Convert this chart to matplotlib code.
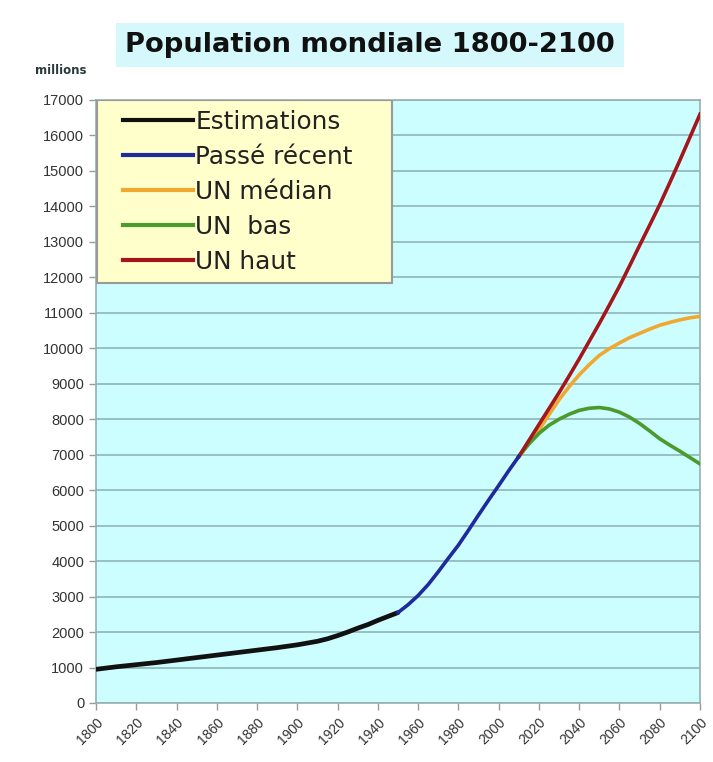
import matplotlib
matplotlib.use("Agg")
import matplotlib.pyplot as plt
from matplotlib.lines import Line2D
from matplotlib.patches import Rectangle

plt.rcParams['font.family'] = ['Liberation Sans', 'DejaVu Sans']

# Data (millions)
est_years = [1800, 1810, 1820, 1830, 1840, 1850, 1860, 1870, 1880, 1890,
             1900, 1905, 1910, 1915, 1920, 1925, 1930, 1935, 1940, 1945, 1950]
est_vals = [950, 1020, 1080, 1140, 1210, 1280, 1350, 1420, 1490, 1560,
            1640, 1690, 1740, 1810, 1900, 2000, 2110, 2210, 2330, 2440, 2550]

recent_years = [1950, 1955, 1960, 1965, 1970, 1975, 1980, 1985, 1990,
                1995, 2000, 2005, 2010]
recent_vals = [2550, 2770, 3030, 3340, 3700, 4080, 4450, 4870, 5300,
               5720, 6130, 6550, 6950]

proj_years = [2010, 2015, 2020, 2025, 2030, 2035, 2040, 2045, 2050, 2055,
              2060, 2065, 2070, 2075, 2080, 2085, 2090, 2095, 2100]
median_vals = [6950, 7320, 7700, 8130, 8550, 8920, 9250, 9540, 9800, 9990,
               10150, 10300, 10420, 10540, 10650, 10730, 10800, 10860, 10900]
low_vals = [6950, 7300, 7600, 7830, 8000, 8140, 8250, 8310, 8330, 8290,
            8200, 8060, 7880, 7670, 7450, 7270, 7100, 6920, 6740]
high_vals = [6950, 7400, 7850, 8300, 8750, 9220, 9700, 10200, 10700, 11220,
             11750, 12320, 12900, 13470, 14050, 14670, 15300, 15950, 16600]

labels = ["Estimations", "Passé récent", "UN médian", "UN  bas", "UN haut"]
colors = ["#111111", "#1f2a9c", "#f0a830", "#4a9a2c", "#a3161c"]

x_ticks = list(range(1800, 2101, 20))
y_ticks = list(range(0, 17001, 1000))

fig = plt.figure(figsize=(7.13, 7.62), dpi=100)
fig.patch.set_facecolor("white")
ax = fig.add_axes([96/713, 59/762, 604/713, 603/762])
ax.set_facecolor("#ccfdff")

ax.plot(est_years, est_vals, color=colors[0], lw=3.4, solid_capstyle='round',
        solid_joinstyle='round', zorder=5)
ax.plot(recent_years, recent_vals, color=colors[1], lw=2.6, solid_joinstyle='round', zorder=5)
ax.plot(proj_years, high_vals, color=colors[4], lw=2.6, solid_joinstyle='round', zorder=4)
ax.plot(proj_years, median_vals, color=colors[2], lw=2.6, solid_joinstyle='round', zorder=3)
ax.plot(proj_years, low_vals, color=colors[3], lw=2.6, solid_joinstyle='round', zorder=3)

ax.set_xlim(1800, 2100)
ax.set_ylim(0, 17000)
ax.set_xticks(x_ticks)
ax.set_yticks(y_ticks)
ax.set_xticklabels([str(v) for v in x_ticks], rotation=45, ha='right',
                   rotation_mode='anchor', fontsize=10, color='#333333')
ax.set_yticklabels([str(v) for v in y_ticks], fontsize=10.5, color='#333333')
ax.tick_params(axis='both', length=5, width=1, color='#999999', direction='out')
ax.tick_params(axis='x', pad=4)
ax.grid(axis='y', color='#8fb4b8', lw=1.2)
ax.set_axisbelow(True)
for s in ax.spines.values():
    s.set_color('#9aaeb0')
    s.set_linewidth(1.2)

# legend frame
ax.add_patch(Rectangle((0.0017, 0.6965), 0.4883, 0.3035, transform=ax.transAxes,
                       facecolor='#ffffcc', edgecolor='#999999', lw=1.5, zorder=6))
handles = [Line2D([], [], color=c, lw=3) for c in colors]
leg = ax.legend(handles, labels, loc='upper left', bbox_to_anchor=(0.0447, 0.984),
                borderaxespad=0, frameon=False,
                prop={'family': 'DejaVu Sans', 'size': 17.8},
                handlelength=2.83, handletextpad=0.1,
                labelspacing=0.45, borderpad=0)
leg.set_zorder(7)
for t in leg.get_texts():
    t.set_color('#222222')

fig.text(0.519, 1 - 52/762, "Population mondiale 1800-2100", ha='center', va='baseline',
         fontsize=19.7, fontweight='bold', color='#111111', family='DejaVu Sans',
         bbox=dict(boxstyle='square,pad=0.32', facecolor='#d4f8fc', edgecolor='none'))
fig.text(35/713, 1 - 70/762, "millions", ha='left', va='center', fontsize=8.5,
         fontweight='bold', color='#2a3a3a', family='DejaVu Sans')

fig.savefig("out.png", dpi=100)
